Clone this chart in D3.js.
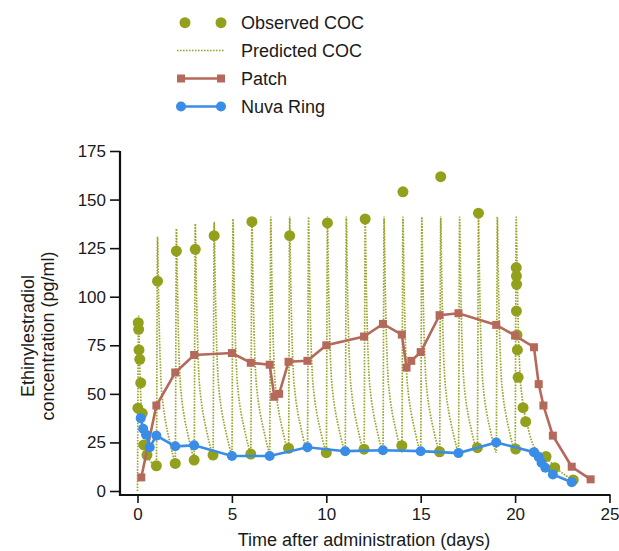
<!DOCTYPE html>
<html>
<head>
<meta charset="utf-8">
<script src="https://cdn.jsdelivr.net/npm/d3@7"></script>
<style>
  body { margin: 0; background: #fff; }
  text { font-family: "Liberation Sans", Arial, sans-serif; fill: #1a1a1a; }
</style>
</head>
<body>
<div class="svg"></div>
<script>
// observed COC (pg/ml)
var obsDay = [0.02, 0.04, 0.06, 0.08, 0.12, 0.17, 0.25, 0.33, 0.5,
    1, 1.06, 2, 2.06, 3, 3.06, 4, 4.06, 6, 6.06, 8, 8.06, 10, 10.06,
    12, 12.06, 14, 14.06, 16, 16.06, 18, 18.06,
    20.03, 20.06, 20.07, 20.08, 20.07, 20.1, 20.12, 20.16, 20.42, 20.56,
    21.64, 22.1, 23.08];
var obsVal = [42.6, 86.6, 83.2, 72.6, 67.8, 55.7, 40, 23.7, 18.5,
    13, 108, 14.2, 123.5, 15.9, 124.4, 18.5, 131.4, 19, 138.6, 22, 131.4, 19.7, 138,
    21.5, 140, 23.3, 154, 20.2, 161.8, 22.3, 143,
    21.6, 115, 110.6, 106.4, 92.6, 80.3, 72.6, 58.5, 42.9, 35.7,
    17.7, 12, 5.7];

// predicted COC: one row per daily dose, values at the offsets below
var predOffset = [0, 0.06, 0.1, 0.15, 0.2, 0.26, 0.35, 0.5, 0.67, 0.85];
var predDose = [0, 1, 2, 3, 4, 5, 6, 7, 8, 9, 10, 11, 12, 13, 14, 15, 16, 17, 18, 19];
var predCycle = [
    [0, 90, 72, 55, 42, 33, 26, 19, 15.5, 13.5],
    [12.5, 131, 109, 85, 68, 54, 45, 35, 27, 19.5],
    [15, 135, 113, 88, 70, 57, 47, 37, 29, 21.5],
    [16.5, 137.5, 115, 90, 72, 58, 48.5, 38.5, 30.5, 23],
    [18, 138.5, 116, 91, 73, 59, 49, 39, 31, 23.5],
    [19, 140, 117, 91.5, 73.5, 59.5, 49.5, 39.5, 31.5, 24],
    [20, 141, 118, 92, 74, 60, 50, 40, 32, 24.5],
    [20, 141, 118, 92, 74, 60, 50, 40, 32, 24.5],
    [20, 141, 118, 92, 74, 60, 50, 40, 32, 24.5],
    [20, 141, 118, 92, 74, 60, 50, 40, 32, 24.5],
    [20, 141, 118, 92, 74, 60, 50, 40, 32, 24.5],
    [20, 141, 118, 92, 74, 60, 50, 40, 32, 24.5],
    [20, 141, 118, 92, 74, 60, 50, 40, 32, 24.5],
    [20, 141, 118, 92, 74, 60, 50, 40, 32, 24.5],
    [20, 141, 118, 92, 74, 60, 50, 40, 32, 24.5],
    [20, 141, 118, 92, 74, 60, 50, 40, 32, 24.5],
    [20, 141, 118, 92, 74, 60, 50, 40, 32, 24.5],
    [20, 141, 118, 92, 74, 60, 50, 40, 32, 24.5],
    [20, 141, 118, 92, 74, 60, 50, 40, 32, 24.5],
    [20, 141, 118, 92, 74, 60, 50, 40, 32, 24.5]
];
// last dose (day 20) and washout
var predTailDay = [20, 20.06, 20.1, 20.15, 20.2, 20.26, 20.35, 20.5, 20.67, 20.85, 21, 21.3, 21.64, 22.1, 22.6, 23.1];
var predTailVal = [20, 141, 118, 92, 74, 60, 50, 40, 33, 26.5, 23, 20, 17.5, 12.5, 8.5, 5.5];

// patch
var patchDay = [0.2, 1, 2, 3, 5, 6, 7, 7.25, 7.5, 8, 9, 10, 12, 13, 14, 14.25, 14.5, 15,
    16, 17, 19, 20, 21, 21.25, 21.5, 22, 23, 24];
var patchVal = [7, 44, 61, 70, 71, 66, 65, 48.5, 50, 66.5, 67, 75, 79.5, 86, 80.5, 63.5, 67, 71.5,
    90.5, 91.5, 85.5, 80, 74, 55, 44, 28.5, 12.5, 6];

// NuvaRing
var ringDay = [0.17, 0.3, 0.45, 0.65, 1, 2, 3, 5, 7, 9, 11, 13, 15, 17, 19, 21, 21.25, 21.4, 21.6, 22, 23];
var ringVal = [37.5, 32, 29, 22.5, 28.5, 23, 23.5, 18, 18, 22.5, 20.5, 21, 20.5, 19.5, 25, 20, 17.5, 14.5, 12, 8.5, 4.5];

var xTicks = [0, 5, 10, 15, 20, 25];
var yTicks = [0, 25, 50, 75, 100, 125, 150, 175];

var olive = '#93a01c', oliveLine = '#9aa42a', patchCol = '#b5695a', ringCol = '#3a8de6';

var width = 619, height = 551;
var svg = d3.select('div.svg').append('svg')
    .attr('width', width)
    .attr('height', height);

var x = d3.scaleLinear().domain([0, 25]).range([137.5, 609.5]);
var y = d3.scaleLinear().domain([0, 175]).range([491, 151]);
var axisX = 120, axisY = 495;

// axes
var gy = svg.append('g').attr('transform', 'translate(' + axisX + ',0)')
    .call(d3.axisLeft(y).tickValues(yTicks).tickSize(10).tickPadding(4));
var gx = svg.append('g').attr('transform', 'translate(0,' + axisY + ')')
    .call(d3.axisBottom(x).tickValues(xTicks).tickSize(8).tickPadding(5));
[gx, gy].forEach(function (g) {
    g.select('.domain').remove();
    g.selectAll('.tick line').attr('stroke', '#111').attr('stroke-width', 1.6);
    g.selectAll('.tick text').attr('font-size', 17).attr('fill', '#1a1a1a')
        .attr('font-family', '"Liberation Sans", Arial, sans-serif');
});
svg.append('line').attr('x1', axisX).attr('x2', axisX)
    .attr('y1', y(175)).attr('y2', axisY + 1)
    .attr('stroke', '#111').attr('stroke-width', 2.2);
svg.append('line').attr('x1', axisX).attr('x2', x(25) + 1)
    .attr('y1', axisY).attr('y2', axisY)
    .attr('stroke', '#111').attr('stroke-width', 2.2);

svg.append('text').attr('x', 364).attr('y', 546)
    .attr('text-anchor', 'middle').attr('font-size', 18)
    .text('Time after administration (days)');
var ylab = svg.append('text').attr('transform', 'translate(34,336) rotate(-90)')
    .attr('text-anchor', 'middle').attr('font-size', 18);
ylab.append('tspan').attr('x', 0).attr('dy', 0).text('Ethinylestradiol');
ylab.append('tspan').attr('x', 0).attr('dy', 20).text('concentration (pg/ml)');

// predicted COC line
var predPts = [];
predDose.forEach(function (d, i) {
    predOffset.forEach(function (o, j) {
        predPts.push([d + o, predCycle[i][j]]);
    });
});
predTailDay.forEach(function (d, i) { predPts.push([d, predTailVal[i]]); });

var line = d3.line().x(d => x(d[0])).y(d => y(d[1]));
svg.append('path')
    .datum(predPts)
    .attr('d', line.curve(d3.curveMonotoneX))
    .attr('fill', 'none')
    .attr('stroke', oliveLine)
    .attr('stroke-width', 1.7)
    .attr('stroke-dasharray', '1.6,1.3');

// observed
svg.append('g').selectAll('circle')
    .data(obsDay)
    .enter()
    .append('circle')
    .attr('cx', d => x(d))
    .attr('cy', (d, i) => y(obsVal[i]))
    .attr('r', 5.5)
    .attr('fill', olive);

// patch
var patchPts = patchDay.map((d, i) => [d, patchVal[i]]);
svg.append('path')
    .datum(patchPts)
    .attr('d', d3.line().x(d => x(d[0])).y(d => y(d[1])))
    .attr('fill', 'none')
    .attr('stroke', patchCol)
    .attr('stroke-width', 2.6);
svg.append('g').selectAll('rect')
    .data(patchPts)
    .enter()
    .append('rect')
    .attr('x', d => x(d[0]) - 4)
    .attr('y', d => y(d[1]) - 4)
    .attr('width', 8)
    .attr('height', 8)
    .attr('fill', patchCol);

// nuva ring
var ringPts = ringDay.map((d, i) => [d, ringVal[i]]);
svg.append('path')
    .datum(ringPts)
    .attr('d', d3.line().x(d => x(d[0])).y(d => y(d[1])))
    .attr('fill', 'none')
    .attr('stroke', ringCol)
    .attr('stroke-width', 2.6);
svg.append('g').selectAll('circle')
    .data(ringPts)
    .enter()
    .append('circle')
    .attr('cx', d => x(d[0]))
    .attr('cy', d => y(d[1]))
    .attr('r', 5)
    .attr('fill', ringCol);

// legend
var legend = svg.append('g');
var rows = [22.7, 50.5, 78.5, 106.5];
var names = ['Observed COC', 'Predicted COC', 'Patch', 'Nuva Ring'];
legend.selectAll('text')
    .data(names)
    .enter()
    .append('text')
    .attr('x', 241)
    .attr('y', (d, i) => rows[i] + 6.5)
    .attr('font-size', 18)
    .text(d => d);
legend.selectAll('.obs')
    .data([185, 221])
    .enter()
    .append('circle')
    .attr('cx', d => d).attr('cy', rows[0]).attr('r', 5.5).attr('fill', olive);
legend.append('line')
    .attr('x1', 177).attr('x2', 224).attr('y1', rows[1]).attr('y2', rows[1])
    .attr('stroke', oliveLine).attr('stroke-width', 1.4).attr('stroke-dasharray', '1.6,1.4');
legend.append('line')
    .attr('x1', 181).attr('x2', 221).attr('y1', rows[2]).attr('y2', rows[2])
    .attr('stroke', patchCol).attr('stroke-width', 2.6);
legend.selectAll('.sq')
    .data([181, 221])
    .enter()
    .append('rect')
    .attr('x', d => d - 4).attr('y', rows[2] - 4).attr('width', 8).attr('height', 8)
    .attr('fill', patchCol);
legend.append('line')
    .attr('x1', 181).attr('x2', 221).attr('y1', rows[3]).attr('y2', rows[3])
    .attr('stroke', ringCol).attr('stroke-width', 2.6);
legend.selectAll('.rg')
    .data([181, 221])
    .enter()
    .append('circle')
    .attr('cx', d => d).attr('cy', rows[3]).attr('r', 5).attr('fill', ringCol);
</script>
</body>
</html>
